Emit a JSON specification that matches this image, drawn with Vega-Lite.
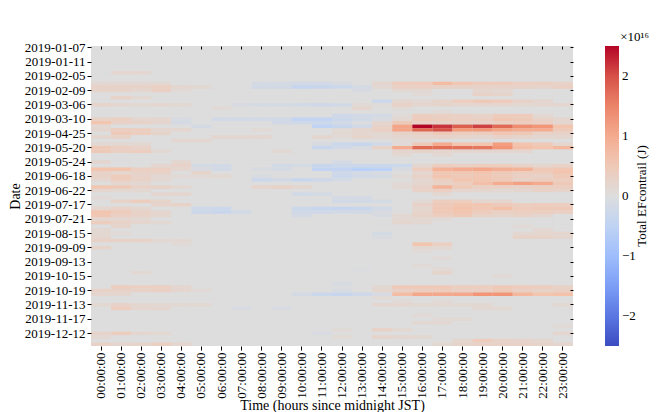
{
  "$schema": "https://vega.github.io/schema/vega-lite/v6.json",
  "width": 482,
  "height": 300,
  "padding": {"left": 8, "top": 31, "right": 5, "bottom": 0},
  "title": {"text": "×10¹⁶", "anchor": "end", "frame": "bounds", "fontSize": 13, "fontWeight": "normal", "font": "Liberation Serif", "offset": -3, "color": "#000"},
  "data": {"values": [
{"d":"2019-01-07","00":0,"01":0,"02":0,"03":0,"04":0,"05":0,"06":0,"07":0,"08":0,"09":0,"10":0,"11":0,"12":0,"13":0,"14":0,"15":0,"16":0,"17":0,"18":0,"19":0,"20":0,"21":0,"22":0,"23":0},
{"d":"2019-01-08","00":0,"01":0,"02":0,"03":0,"04":0,"05":0,"06":0,"07":0,"08":0,"09":0,"10":0,"11":0,"12":0,"13":0,"14":0,"15":0,"16":0,"17":0,"18":0,"19":0,"20":0,"21":0,"22":0,"23":0},
{"d":"2019-01-09","00":0,"01":0,"02":0,"03":0,"04":0,"05":0,"06":0,"07":0,"08":0,"09":0,"10":0,"11":0,"12":0,"13":0,"14":0,"15":0,"16":0,"17":0,"18":0,"19":0,"20":0,"21":0,"22":0,"23":0},
{"d":"2019-01-10","00":0,"01":0,"02":0,"03":0,"04":0,"05":0,"06":0,"07":0,"08":0,"09":0,"10":0,"11":0,"12":0,"13":0,"14":0,"15":0,"16":0,"17":0,"18":0,"19":0,"20":0,"21":0,"22":0,"23":0},
{"d":"2019-01-11","00":0,"01":0,"02":0,"03":0,"04":0,"05":0,"06":0,"07":0,"08":0,"09":0,"10":0,"11":0,"12":0,"13":0,"14":0,"15":0,"16":0,"17":0,"18":0,"19":0,"20":0,"21":0,"22":0,"23":0},
{"d":"2019-01-12","00":0,"01":0,"02":0,"03":0,"04":0,"05":0,"06":0,"07":0,"08":0,"09":0,"10":0,"11":0,"12":0,"13":0,"14":0,"15":0,"16":0,"17":0,"18":0,"19":0,"20":0,"21":0,"22":0,"23":0},
{"d":"2019-01-13","00":0,"01":0,"02":0,"03":0,"04":0,"05":0,"06":0,"07":0,"08":0,"09":0,"10":0,"11":0,"12":0,"13":0,"14":0,"15":0,"16":0,"17":0,"18":0,"19":0,"20":0,"21":0,"22":0,"23":0},
{"d":"2019-02-04","00":0,"01":0.2,"02":0.2,"03":0,"04":0,"05":0,"06":0,"07":0,"08":0,"09":0,"10":0,"11":0,"12":0,"13":0,"14":0,"15":0,"16":0,"17":0,"18":0,"19":0,"20":0,"21":0,"22":0,"23":0},
{"d":"2019-02-05","00":0,"01":0,"02":0,"03":0,"04":0,"05":0,"06":0,"07":0,"08":0,"09":0,"10":0,"11":0,"12":0,"13":0,"14":0,"15":0,"16":0,"17":0,"18":0,"19":0,"20":0,"21":0,"22":0,"23":0},
{"d":"2019-02-06","00":0,"01":0,"02":0,"03":0,"04":0,"05":0,"06":0,"07":0,"08":0,"09":0,"10":0,"11":0,"12":0,"13":0,"14":0,"15":0,"16":0,"17":0,"18":0,"19":0,"20":0,"21":0,"22":0,"23":0},
{"d":"2019-02-07","00":0.15,"01":0.15,"02":0.15,"03":0.15,"04":0,"05":0,"06":0,"07":0,"08":-0.15,"09":-0.15,"10":-0.2,"11":-0.2,"12":-0.1,"13":0,"14":0.2,"15":0.45,"16":0.45,"17":0.75,"18":0.55,"19":0.45,"20":0.45,"21":0.35,"22":0.35,"23":0.3},
{"d":"2019-02-08","00":0.3,"01":0.3,"02":0.3,"03":0.35,"04":0.2,"05":0.15,"06":0,"07":0,"08":-0.2,"09":-0.2,"10":-0.4,"11":-0.35,"12":-0.3,"13":-0.15,"14":0.15,"15":0.35,"16":0.35,"17":0.3,"18":0.3,"19":0.3,"20":0.3,"21":0.3,"22":0.25,"23":0.35},
{"d":"2019-02-09","00":0.25,"01":0.25,"02":0.2,"03":0.35,"04":0.1,"05":0,"06":0,"07":0,"08":0,"09":0,"10":0,"11":0,"12":0,"13":-0.1,"14":0,"15":0.15,"16":0.15,"17":0,"18":0,"19":0.2,"20":0.15,"21":0,"22":0,"23":0},
{"d":"2019-02-10","00":0,"01":0,"02":0,"03":0,"04":0,"05":0,"06":0,"07":0,"08":0,"09":0,"10":0,"11":0,"12":0,"13":0,"14":0,"15":0,"16":0.1,"17":0,"18":0,"19":0.3,"20":0.25,"21":0,"22":0,"23":0},
{"d":"2019-03-04","00":0,"01":0.3,"02":0.15,"03":0,"04":0,"05":0,"06":0,"07":0,"08":0,"09":0,"10":0,"11":0,"12":0,"13":0,"14":0,"15":0,"16":0,"17":0,"18":0,"19":0,"20":0,"21":0,"22":0,"23":0},
{"d":"2019-03-05","00":0,"01":0,"02":0,"03":0,"04":0,"05":0,"06":0,"07":0,"08":0,"09":0,"10":0,"11":0,"12":0,"13":0,"14":-0.3,"15":0.2,"16":0.15,"17":0.25,"18":0.4,"19":0.5,"20":0.45,"21":0.3,"22":0.2,"23":0},
{"d":"2019-03-06","00":0.25,"01":0.2,"02":0.15,"03":0.2,"04":0.15,"05":0,"06":0,"07":-0.1,"08":-0.15,"09":-0.15,"10":-0.2,"11":-0.25,"12":-0.2,"13":0.1,"14":0.05,"15":0.3,"16":0.2,"17":0.25,"18":0.2,"19":0.2,"20":0.2,"21":0.15,"22":0.2,"23":0.2},
{"d":"2019-03-07","00":0,"01":0,"02":0,"03":0,"04":0,"05":0,"06":0.1,"07":0,"08":0,"09":0,"10":0,"11":0,"12":0,"13":0.2,"14":0,"15":0.1,"16":0,"17":0,"18":0,"19":0,"20":0,"21":0,"22":0,"23":0},
{"d":"2019-03-08","00":0,"01":0,"02":0,"03":0,"04":0,"05":0,"06":0,"07":0,"08":0,"09":0,"10":0,"11":0,"12":0,"13":0,"14":0,"15":0,"16":0,"17":0.1,"18":0,"19":0,"20":0,"21":0,"22":0,"23":0},
{"d":"2019-03-09","00":0,"01":0,"02":0,"03":0,"04":0,"05":0,"06":0,"07":0,"08":0,"09":0,"10":0,"11":0,"12":-0.25,"13":-0.2,"14":-0.15,"15":0.1,"16":0.4,"17":0.35,"18":0.35,"19":0.3,"20":0.45,"21":0.45,"22":0.15,"23":0},
{"d":"2019-03-10","00":0.3,"01":0.35,"02":0.2,"03":0.2,"04":-0.1,"05":0,"06":-0.2,"07":-0.2,"08":-0.2,"09":-0.2,"10":-0.45,"11":-0.45,"12":-0.3,"13":-0.2,"14":-0.1,"15":0.15,"16":0.45,"17":0.4,"18":0.35,"19":0.35,"20":0.55,"21":0.5,"22":0.3,"23":0.2},
{"d":"2019-04-22","00":0.6,"01":0.3,"02":0.3,"03":0.2,"04":-0.15,"05":0,"06":0,"07":0,"08":0,"09":-0.2,"10":-0.25,"11":-0.3,"12":-0.2,"13":-0.05,"14":0.2,"15":0.5,"16":0.3,"17":0.3,"18":0.3,"19":0.3,"20":0.35,"21":0.4,"22":0.35,"23":0.2},
{"d":"2019-04-23","00":0.15,"01":0,"02":0,"03":0,"04":0,"05":-0.15,"06":0,"07":0,"08":0,"09":0,"10":0,"11":-0.5,"12":-0.35,"13":-0.2,"14":0.3,"15":1.1,"16":2.5,"17":2.2,"18":1.9,"19":2.1,"20":1.8,"21":1.4,"22":1.3,"23":0.6},
{"d":"2019-04-24","00":0.2,"01":0.4,"02":0.4,"03":0.2,"04":0.2,"05":0,"06":0,"07":0,"08":0.1,"09":0,"10":0,"11":0,"12":0.1,"13":0.2,"14":0.35,"15":1.1,"16":1.85,"17":2.0,"18":1.25,"19":1.3,"20":1.1,"21":1.0,"22":1.0,"23":0.5},
{"d":"2019-04-25","00":0,"01":0.5,"02":0.4,"03":0.25,"04":0,"05":0,"06":0,"07":0,"08":0,"09":0,"10":0,"11":0,"12":0.15,"13":0.2,"14":0.15,"15":0.3,"16":0.35,"17":0.5,"18":0.4,"19":0.4,"20":0.55,"21":0.5,"22":0.3,"23":0.3},
{"d":"2019-04-26","00":0.2,"01":0.3,"02":0,"03":0,"04":0,"05":0,"06":0.2,"07":0.2,"08":0.2,"09":0,"10":0,"11":0.2,"12":0.1,"13":0.25,"14":0.15,"15":0.2,"16":0.25,"17":0.3,"18":0.25,"19":0.2,"20":0.3,"21":0.25,"22":0.2,"23":0.2},
{"d":"2019-04-27","00":0,"01":0,"02":0,"03":0,"04":0.2,"05":0.2,"06":0,"07":0,"08":0,"09":0,"10":0,"11":0,"12":0,"13":0,"14":0,"15":0.1,"16":0.1,"17":0,"18":0,"19":0,"20":0,"21":0,"22":0,"23":0},
{"d":"2019-04-28","00":0.15,"01":0.15,"02":0.15,"03":0,"04":0,"05":0,"06":0,"07":0,"08":0,"09":0,"10":0,"11":-0.1,"12":-0.3,"13":-0.35,"14":-0.2,"15":0.1,"16":0.5,"17":1.0,"18":0.6,"19":0.6,"20":1.2,"21":0.6,"22":0.5,"23":0.2},
{"d":"2019-05-20","00":0.5,"01":0.35,"02":0.3,"03":0,"04":0,"05":0,"06":0,"07":0,"08":0,"09":0,"10":0,"11":-0.35,"12":-0.2,"13":-0.1,"14":0.3,"15":1.0,"16":1.8,"17":1.75,"18":1.7,"19":1.65,"20":1.3,"21":0.7,"22":0.6,"23":0.8},
{"d":"2019-05-21","00":0.5,"01":0.35,"02":0.4,"03":0.15,"04":0,"05":0,"06":0,"07":0,"08":0,"09":0.15,"10":0,"11":0,"12":0,"13":0,"14":0,"15":0.2,"16":0.25,"17":0.2,"18":0.2,"19":0.2,"20":0.2,"21":0.2,"22":0,"23":0},
{"d":"2019-05-22","00":0,"01":0,"02":0,"03":0,"04":0,"05":0,"06":0,"07":0,"08":0,"09":0,"10":0,"11":0,"12":0,"13":0,"14":0,"15":0.15,"16":0,"17":0.15,"18":0,"19":0,"20":0,"21":0,"22":0,"23":0},
{"d":"2019-05-23","00":0,"01":0,"02":0,"03":0,"04":0,"05":0,"06":0,"07":0,"08":0,"09":0,"10":0,"11":0,"12":0,"13":0,"14":0,"15":0,"16":0,"17":0,"18":0,"19":0,"20":0,"21":0,"22":0,"23":0},
{"d":"2019-05-24","00":0.2,"01":0,"02":0,"03":0,"04":0.2,"05":0,"06":0,"07":0,"08":0,"09":0,"10":0,"11":0,"12":-0.15,"13":0,"14":0,"15":0,"16":0,"17":0,"18":0,"19":0,"20":0,"21":0,"22":0,"23":0},
{"d":"2019-05-25","00":0,"01":0,"02":0,"03":0.2,"04":0.3,"05":-0.15,"06":-0.2,"07":0,"08":0,"09":-0.2,"10":-0.15,"11":-0.35,"12":-0.3,"13":-0.3,"14":-0.3,"15":-0.3,"16":0.2,"17":0.4,"18":0.35,"19":0.4,"20":0.4,"21":0.3,"22":0.2,"23":0.3},
{"d":"2019-05-26","00":0.6,"01":0.6,"02":0.35,"03":0.35,"04":0.2,"05":-0.1,"06":-0.2,"07":0,"08":-0.1,"09":-0.15,"10":0,"11":-0.45,"12":-0.45,"13":-0.6,"14":-0.55,"15":-0.1,"16":0.4,"17":0.9,"18":1.0,"19":1.05,"20":0.95,"21":0.9,"22":0.5,"23":0.55},
{"d":"2019-06-17","00":0.3,"01":0.2,"02":0.3,"03":0.3,"04":0,"05":0.25,"06":0,"07":0,"08":0,"09":0,"10":0,"11":0,"12":-0.25,"13":-0.15,"14":-0.1,"15":0,"16":0.2,"17":0.55,"18":0.55,"19":0.6,"20":0.5,"21":0.4,"22":0.45,"23":0.6},
{"d":"2019-06-18","00":0.3,"01":0.45,"02":0.3,"03":0.15,"04":0.1,"05":0.1,"06":0.15,"07":0,"08":-0.1,"09":0,"10":0,"11":0,"12":-0.3,"13":-0.2,"14":-0.15,"15":0.1,"16":0.3,"17":0.6,"18":0.5,"19":0.55,"20":0.5,"21":0.35,"22":0.3,"23":0.5},
{"d":"2019-06-19","00":0.2,"01":0.4,"02":0.3,"03":0.15,"04":0,"05":0,"06":0,"07":0,"08":-0.3,"09":-0.2,"10":-0.35,"11":-0.25,"12":-0.15,"13":0,"14":0,"15":0,"16":0.2,"17":0.4,"18":0.6,"19":0.6,"20":0.5,"21":0.3,"22":0.4,"23":0.4},
{"d":"2019-06-20","00":0,"01":0.2,"02":0.15,"03":0,"04":0,"05":0,"06":0,"07":0,"08":0,"09":0,"10":0,"11":0,"12":0,"13":0,"14":0,"15":0.1,"16":0.2,"17":0.3,"18":0.4,"19":0.7,"20":1.0,"21":1.15,"22":1.0,"23":0.5},
{"d":"2019-06-21","00":0.55,"01":0.5,"02":0.3,"03":0.3,"04":0.15,"05":0,"06":0,"07":0,"08":0.25,"09":0.3,"10":0.2,"11":0,"12":0,"13":0,"14":0,"15":0.15,"16":0.3,"17":0.9,"18":0.5,"19":0.35,"20":0.35,"21":0.3,"22":0.35,"23":0.4},
{"d":"2019-06-22","00":0.2,"01":0.15,"02":0.15,"03":0,"04":0,"05":0,"06":0,"07":0,"08":0,"09":0,"10":0,"11":0,"12":0,"13":0,"14":0,"15":0,"16":0.3,"17":0.35,"18":0.2,"19":0.2,"20":0.15,"21":0.2,"22":0.3,"23":0.25},
{"d":"2019-06-23","00":0,"01":0,"02":0,"03":0.2,"04":0.2,"05":0,"06":0,"07":0,"08":0,"09":0,"10":-0.2,"11":-0.15,"12":0,"13":0,"14":0,"15":0,"16":0,"17":0.15,"18":0,"19":0,"20":0,"21":0,"22":0,"23":0},
{"d":"2019-07-15","00":0.1,"01":0,"02":0,"03":0,"04":0,"05":0,"06":0,"07":0,"08":0,"09":0,"10":0,"11":0,"12":-0.15,"13":-0.15,"14":0,"15":0,"16":0,"17":0,"18":0,"19":0,"20":0,"21":0,"22":0,"23":0},
{"d":"2019-07-16","00":0,"01":0.3,"02":0.4,"03":0.25,"04":0,"05":0,"06":0,"07":0,"08":0,"09":0,"10":0,"11":0,"12":-0.2,"13":-0.2,"14":-0.15,"15":0,"16":0.1,"17":0.4,"18":0.4,"19":0.2,"20":0.2,"21":0,"22":0,"23":0},
{"d":"2019-07-17","00":0,"01":0,"02":0,"03":0.25,"04":0.3,"05":0,"06":0,"07":0,"08":0,"09":0,"10":0,"11":0,"12":0,"13":0,"14":0,"15":0,"16":0.3,"17":0.5,"18":0.6,"19":0.6,"20":0.5,"21":0.4,"22":0.45,"23":0.4},
{"d":"2019-07-18","00":0.2,"01":0.3,"02":0.2,"03":0,"04":0,"05":-0.25,"06":-0.3,"07":0,"08":0,"09":0,"10":-0.3,"11":-0.35,"12":-0.4,"13":-0.35,"14":-0.2,"15":0,"16":0.2,"17":0.55,"18":0.65,"19":0.55,"20":0.7,"21":0.45,"22":0.5,"23":0.5},
{"d":"2019-07-19","00":0.6,"01":0.45,"02":0.3,"03":0.2,"04":0,"05":-0.3,"06":-0.35,"07":-0.2,"08":0,"09":0,"10":-0.25,"11":-0.25,"12":-0.2,"13":-0.2,"14":-0.1,"15":0,"16":0.25,"17":0.5,"18":0.6,"19":0.45,"20":0.35,"21":0.4,"22":0.4,"23":0.35},
{"d":"2019-07-20","00":0.55,"01":0.35,"02":0.3,"03":0.2,"04":0,"05":0,"06":0,"07":0,"08":0,"09":0,"10":-0.15,"11":0,"12":0,"13":0,"14":-0.1,"15":0.15,"16":0.3,"17":0.4,"18":0.5,"19":0.3,"20":0.25,"21":0.3,"22":0.2,"23":0},
{"d":"2019-07-21","00":0.2,"01":0.2,"02":0.15,"03":0,"04":0,"05":0,"06":0,"07":0,"08":0,"09":0,"10":0,"11":0,"12":0,"13":0,"14":0,"15":0.15,"16":0.15,"17":0.1,"18":0,"19":0,"20":0,"21":0,"22":0,"23":0},
{"d":"2019-08-12","00":0.4,"01":0.3,"02":0.2,"03":0.15,"04":0,"05":0,"06":0,"07":0,"08":0,"09":0,"10":0,"11":0,"12":0,"13":0,"14":0,"15":0.2,"16":0.15,"17":0,"18":0,"19":0,"20":0,"21":0,"22":0,"23":0},
{"d":"2019-08-13","00":0,"01":0.25,"02":0,"03":0,"04":0,"05":0,"06":0,"07":0,"08":0,"09":0,"10":0,"11":0,"12":0,"13":0,"14":0,"15":0,"16":0,"17":0,"18":0,"19":0,"20":0,"21":0.1,"22":0,"23":0},
{"d":"2019-08-14","00":0.15,"01":0,"02":0,"03":0,"04":0,"05":0,"06":0,"07":0,"08":0,"09":0,"10":0,"11":0,"12":0,"13":0,"14":0,"15":0,"16":0,"17":0,"18":0,"19":0,"20":0,"21":0,"22":0.15,"23":0},
{"d":"2019-08-15","00":0.15,"01":0.1,"02":0,"03":0,"04":0,"05":0,"06":0,"07":0,"08":0,"09":0,"10":0,"11":0,"12":0,"13":0,"14":-0.15,"15":0,"16":0,"17":0,"18":0,"19":0,"20":0,"21":0.15,"22":0.2,"23":0.2},
{"d":"2019-08-16","00":0.2,"01":0,"02":0,"03":0,"04":0,"05":0,"06":0,"07":0,"08":0,"09":0,"10":0,"11":0,"12":0,"13":0,"14":-0.1,"15":0,"16":0,"17":0,"18":0,"19":0,"20":0,"21":0.3,"22":0.3,"23":0.2},
{"d":"2019-08-17","00":0.3,"01":0.3,"02":0.3,"03":0.15,"04":0.15,"05":0,"06":0,"07":0,"08":0,"09":0,"10":0,"11":0,"12":0,"13":0,"14":0,"15":0,"16":0,"17":0,"18":0,"19":0,"20":0,"21":0,"22":0,"23":0},
{"d":"2019-08-18","00":0,"01":0,"02":0,"03":0,"04":0.1,"05":0,"06":0,"07":0,"08":0,"09":0,"10":0,"11":0,"12":0,"13":0,"14":0,"15":0,"16":0.6,"17":0.35,"18":0,"19":0,"20":0,"21":0,"22":0,"23":0},
{"d":"2019-09-09","00":0.25,"01":0,"02":0,"03":0,"04":0,"05":0,"06":0,"07":0,"08":0,"09":0,"10":0,"11":0,"12":0,"13":0,"14":0,"15":0,"16":0.15,"17":0.15,"18":0,"19":0,"20":0,"21":0,"22":0,"23":0},
{"d":"2019-09-10","00":0,"01":0,"02":0,"03":0,"04":0,"05":0,"06":0,"07":0,"08":0,"09":0,"10":0,"11":0,"12":0,"13":0,"14":0,"15":0,"16":0.1,"17":0,"18":0,"19":0,"20":0,"21":0,"22":0,"23":0},
{"d":"2019-09-11","00":0,"01":0,"02":0,"03":0,"04":0,"05":0,"06":0,"07":0,"08":0,"09":0,"10":0,"11":0,"12":0,"13":0,"14":0,"15":0,"16":0,"17":0,"18":0,"19":0,"20":0,"21":0,"22":0,"23":0},
{"d":"2019-09-12","00":0,"01":0,"02":0,"03":0,"04":0,"05":0,"06":0,"07":0,"08":0,"09":0,"10":0,"11":0,"12":0,"13":0,"14":0,"15":0,"16":0,"17":0.1,"18":0,"19":0,"20":0,"21":0,"22":0,"23":0},
{"d":"2019-09-13","00":0,"01":0,"02":0,"03":0,"04":0,"05":0,"06":0,"07":0,"08":0,"09":0,"10":0,"11":0,"12":0,"13":0,"14":0,"15":0,"16":0,"17":0,"18":0,"19":0,"20":0,"21":0,"22":0,"23":0},
{"d":"2019-09-14","00":0,"01":0,"02":0,"03":0,"04":0,"05":0,"06":0,"07":0,"08":0,"09":0,"10":0,"11":0,"12":0,"13":0,"14":0,"15":0,"16":0.1,"17":0,"18":0,"19":0,"20":0,"21":0,"22":0,"23":0},
{"d":"2019-09-15","00":0,"01":0,"02":0,"03":0,"04":0,"05":0,"06":0,"07":0,"08":0,"09":0,"10":0,"11":0,"12":0,"13":-0.05,"14":0,"15":0,"16":0,"17":0.1,"18":0,"19":0,"20":0,"21":0,"22":0,"23":0},
{"d":"2019-10-14","00":0,"01":0,"02":0.15,"03":0,"04":0,"05":0,"06":0,"07":0,"08":0,"09":0,"10":0,"11":0,"12":0,"13":0,"14":0,"15":0,"16":0,"17":0.25,"18":0,"19":0,"20":0,"21":0,"22":0,"23":0},
{"d":"2019-10-15","00":0,"01":0,"02":0,"03":0,"04":0,"05":0,"06":0,"07":0,"08":0,"09":0,"10":0,"11":0,"12":0,"13":0,"14":0,"15":0,"16":0,"17":0,"18":0,"19":0,"20":0.1,"21":0,"22":0,"23":0},
{"d":"2019-10-16","00":0,"01":0,"02":0,"03":0,"04":0,"05":0,"06":0,"07":0,"08":0,"09":0,"10":0,"11":0,"12":0,"13":0,"14":0,"15":0,"16":0,"17":0,"18":0,"19":0,"20":0,"21":0,"22":0,"23":0},
{"d":"2019-10-17","00":0,"01":0,"02":0,"03":0,"04":0,"05":0,"06":0,"07":0,"08":0,"09":0,"10":0,"11":0,"12":-0.1,"13":0,"14":0,"15":0,"16":0,"17":0,"18":0,"19":0,"20":0,"21":0,"22":0,"23":0},
{"d":"2019-10-18","00":0,"01":0.4,"02":0.35,"03":0.35,"04":0.2,"05":0,"06":0,"07":0,"08":0,"09":0,"10":0,"11":0,"12":-0.05,"13":0,"14":0.15,"15":0.5,"16":0.5,"17":0.5,"18":0.4,"19":0.4,"20":0.5,"21":0.45,"22":0.4,"23":0.3},
{"d":"2019-10-19","00":0.3,"01":0.3,"02":0.3,"03":0.35,"04":0.2,"05":0.1,"06":0,"07":0,"08":0,"09":0,"10":0,"11":0,"12":-0.1,"13":0,"14":0.2,"15":0.35,"16":0.4,"17":0.45,"18":0.35,"19":0.35,"20":0.5,"21":0.35,"22":0.3,"23":0.35},
{"d":"2019-10-20","00":0.2,"01":0.2,"02":0,"03":0,"04":0,"05":0,"06":0,"07":0,"08":0,"09":0,"10":-0.15,"11":-0.3,"12":-0.35,"13":-0.25,"14":-0.1,"15":0.75,"16":1.05,"17":1.05,"18":1.05,"19":1.3,"20":1.3,"21":0.8,"22":0.6,"23":0.65},
{"d":"2019-11-11","00":0,"01":0,"02":0,"03":0,"04":0,"05":0,"06":0,"07":0,"08":0,"09":0,"10":0,"11":0,"12":0,"13":0,"14":0.1,"15":0,"16":0,"17":0,"18":0,"19":0,"20":0,"21":0,"22":0,"23":0},
{"d":"2019-11-12","00":0,"01":0,"02":0,"03":0,"04":0,"05":0,"06":0,"07":0,"08":0,"09":0,"10":0,"11":0,"12":0,"13":0,"14":0,"15":0.1,"16":0,"17":0.1,"18":0,"19":0,"20":0,"21":0,"22":0,"23":0},
{"d":"2019-11-13","00":0.15,"01":0.3,"02":0.2,"03":0.15,"04":0.15,"05":0.15,"06":0,"07":0,"08":0,"09":0,"10":0,"11":0,"12":0,"13":0,"14":0.2,"15":0.2,"16":0.15,"17":0.15,"18":0.15,"19":0.15,"20":0,"21":0,"22":0,"23":0.15},
{"d":"2019-11-14","00":0,"01":0.4,"02":0.2,"03":0.2,"04":0,"05":0,"06":0,"07":-0.1,"08":0,"09":-0.1,"10":0,"11":0,"12":0,"13":0,"14":0,"15":0,"16":0,"17":0,"18":0,"19":0.15,"20":0.15,"21":0,"22":0,"23":0},
{"d":"2019-11-15","00":0,"01":0,"02":0,"03":0,"04":0,"05":0,"06":0,"07":0,"08":0,"09":0,"10":0,"11":0,"12":0,"13":0,"14":0,"15":0,"16":0,"17":0,"18":0,"19":0,"20":0,"21":0,"22":0,"23":0},
{"d":"2019-11-16","00":0,"01":0,"02":0,"03":0,"04":0,"05":0,"06":0,"07":0,"08":0,"09":0,"10":0,"11":0,"12":0,"13":0,"14":0,"15":0,"16":0.1,"17":0,"18":0,"19":0,"20":0,"21":0,"22":0,"23":0},
{"d":"2019-11-17","00":0,"01":0,"02":0,"03":0,"04":0,"05":0,"06":0,"07":0,"08":0,"09":0,"10":0,"11":0,"12":0,"13":0,"14":0,"15":0,"16":0,"17":0.1,"18":0.1,"19":0,"20":0,"21":0,"22":0,"23":0},
{"d":"2019-12-09","00":0,"01":0,"02":0,"03":0,"04":0,"05":0,"06":0,"07":0,"08":0,"09":0,"10":0,"11":0,"12":0,"13":0,"14":0,"15":0,"16":0.15,"17":0.15,"18":0,"19":0,"20":0,"21":0,"22":0,"23":0},
{"d":"2019-12-10","00":0,"01":0,"02":0,"03":0,"04":0,"05":0,"06":0,"07":0,"08":0,"09":0,"10":0,"11":0,"12":0,"13":0,"14":0,"15":0,"16":0,"17":0,"18":0,"19":0,"20":0,"21":0,"22":0,"23":0.1},
{"d":"2019-12-11","00":0,"01":0,"02":0,"03":0,"04":0,"05":0,"06":0,"07":0,"08":0,"09":0,"10":0,"11":0,"12":0.1,"13":0,"14":0.3,"15":0.15,"16":0,"17":0,"18":0,"19":0,"20":0,"21":0,"22":0,"23":0},
{"d":"2019-12-12","00":0.25,"01":0.4,"02":0.2,"03":0.15,"04":0,"05":0,"06":0,"07":0,"08":0,"09":0,"10":0,"11":-0.1,"12":0,"13":0,"14":0,"15":0,"16":0,"17":0,"18":0,"19":0,"20":0,"21":0,"22":0,"23":0.2},
{"d":"2019-12-13","00":0.15,"01":0,"02":0,"03":0,"04":0,"05":0,"06":0,"07":0,"08":0,"09":0,"10":0,"11":0,"12":0.1,"13":0,"14":0.25,"15":0.2,"16":0.15,"17":0,"18":0,"19":0,"20":0,"21":0,"22":0,"23":0},
{"d":"2019-12-14","00":0,"01":0,"02":0,"03":0,"04":0,"05":0,"06":0,"07":0,"08":0,"09":0,"10":0,"11":0,"12":0,"13":0,"14":0,"15":0,"16":0,"17":0,"18":0.2,"19":0.45,"20":0.3,"21":0.25,"22":0.2,"23":0},
{"d":"2019-12-15","00":0.3,"01":0.2,"02":0.25,"03":0.35,"04":0.2,"05":0,"06":0,"07":0,"08":0,"09":0,"10":0,"11":0,"12":0,"13":0,"14":0,"15":0,"16":0,"17":0.15,"18":0.25,"19":0.3,"20":0.3,"21":0.3,"22":0.25,"23":0.2}
  ]},
  "transform": [{"fold": ["00","01","02","03","04","05","06","07","08","09","10","11","12","13","14","15","16","17","18","19","20","21","22","23"], "as": ["h", "v"]}],
  "layer": [
    {
      "mark": {"type": "rect"},
      "encoding": {
        "x": {"field": "h", "type": "ordinal", "sort": "ascending",
          "scale": {"paddingInner": 0, "paddingOuter": 0},
          "axis": {"title": "Time (hours since midnight JST)", "labelAngle": -90, "labelExpr": "datum.value + ':00:00'", "tickSize": 4, "tickColor": "#000", "domain": false, "labelFontSize": 13, "titleFontSize": 14, "titleFontWeight": "normal", "labelPadding": 2, "titlePadding": 0, "labelColor": "#000", "titleColor": "#000", "labelFont": "Liberation Serif", "titleFont": "Liberation Serif"}},
        "y": {"field": "d", "type": "ordinal", "sort": "ascending",
          "scale": {"paddingInner": 0, "paddingOuter": 0},
          "axis": {"title": "Date", "values": ["2019-01-07","2019-01-11","2019-02-05","2019-02-09","2019-03-06","2019-03-10","2019-04-25","2019-05-20","2019-05-24","2019-06-18","2019-06-22","2019-07-17","2019-07-21","2019-08-15","2019-09-09","2019-09-13","2019-10-15","2019-10-19","2019-11-13","2019-11-17","2019-12-12"], "tickSize": 4, "tickColor": "#000", "domain": false, "labelFontSize": 13, "titleFontSize": 14, "titleFontWeight": "normal", "labelPadding": 2, "titlePadding": 2, "labelColor": "#000", "titleColor": "#000", "labelFont": "Liberation Serif", "titleFont": "Liberation Serif"}},
        "color": {"field": "v", "type": "quantitative",
          "scale": {"domain": [-2.5, -1.875, -1.25, -0.625, 0, 0.625, 1.25, 1.875, 2.5], "range": ["#3b4cc0", "#6282ea", "#8db0fe", "#b8d0f9", "#dddddd", "#f4c4ad", "#f49a7b", "#de634f", "#b40426"], "interpolate": "rgb"},
          "legend": {"type": "gradient", "direction": "vertical", "title": "Total EFcontrail (J)", "titleOrient": "right", "titleAnchor": "middle", "titleAlign": "center", "titleBaseline": "top", "titleFontSize": 13, "titleFontWeight": "normal", "titleColor": "#000", "titleFont": "Liberation Serif", "gradientLength": 300, "gradientThickness": 14, "values": [-2, -1, 0, 1, 2], "labelExpr": "datum.value < 0 ? '−' + abs(datum.value) : '' + datum.value", "labelFontSize": 13, "labelColor": "#000", "labelFont": "Liberation Serif", "labelOffset": 3, "offset": 31, "titlePadding": 0,
            "encode": {"title": {"update": {"angle": {"value": -90}}}}}}
      }
    },
    {
      "mark": {"type": "rect", "opacity": 0},
      "encoding": {
        "x": {"field": "h", "type": "ordinal", "sort": "ascending",
          "axis": {"orient": "top", "title": null, "labels": false, "tickSize": -3, "tickColor": "#000", "domain": false}},
        "y": {"field": "d", "type": "ordinal", "sort": "ascending",
          "axis": {"orient": "right", "title": null, "labels": false, "values": ["2019-01-07","2019-01-11","2019-02-05","2019-02-09","2019-03-06","2019-03-10","2019-04-25","2019-05-20","2019-05-24","2019-06-18","2019-06-22","2019-07-17","2019-07-21","2019-08-15","2019-09-09","2019-09-13","2019-10-15","2019-10-19","2019-11-13","2019-11-17","2019-12-12"], "tickSize": -3, "tickColor": "#000", "domain": false}}
      }
    }
  ],
  "resolve": {"axis": {"x": "independent", "y": "independent"}},
  "config": {"font": "Liberation Serif", "view": {"stroke": null, "fill": "#dddddd"}}
}
